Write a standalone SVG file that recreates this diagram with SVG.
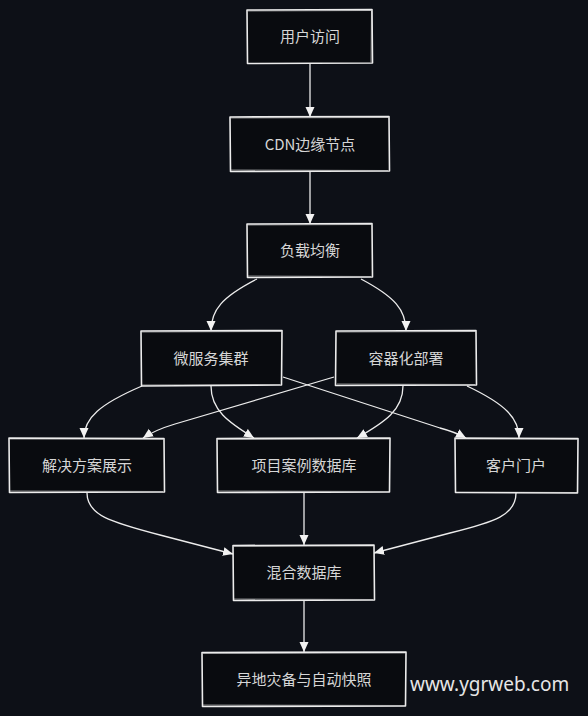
<svg xmlns="http://www.w3.org/2000/svg" width="588" height="716" viewBox="0 0 588 716">
<style>
.box{fill:#090b0f;stroke:#ececec;stroke-width:1.6;stroke-linejoin:round}
.sk{fill:none;stroke:#ececec;stroke-width:0.8;opacity:0.7}
.lbl{font-family:"Noto Sans CJK SC","Noto Sans",sans-serif;font-size:15px;fill:#d6d6d6;text-anchor:middle;dominant-baseline:central}
.edge{fill:none;stroke:#ececec;stroke-width:1.3}
.wm{font-family:"Noto Sans","Open Sans",sans-serif;font-size:19px;fill:#e6e6e6}
</style>
<defs>
<marker id="ah" markerUnits="userSpaceOnUse" markerWidth="10" markerHeight="10" viewBox="0 0 10 10" refX="10" refY="5" orient="auto">
<path d="M0,0.5 L10,5 L0,9.5 Z" fill="#f2f2f2"/>
</marker>
</defs>
<rect width="588" height="716" fill="#0d1017"/>

<g id="connectors">
<path class="edge" marker-end="url(#ah)" d="M310,63 L310,117"/>
<path class="edge" marker-end="url(#ah)" d="M310,171 L310,224"/>
<path class="edge" marker-end="url(#ah)" d="M257,279 C222,297 211,310 211,331"/>
<path class="edge" marker-end="url(#ah)" d="M361,279 C395,297 406,310 406,331"/>
<path class="edge" marker-end="url(#ah)" d="M142,386 C100,404 84,418 84,438"/>
<path class="edge" marker-end="url(#ah)" d="M211,386 C211,410 228,422 254,438"/>
<path class="edge" marker-end="url(#ah)" d="M283,377 L440,428 Q455,432 466,438"/>
<path class="edge" marker-end="url(#ah)" d="M334,377 L175,424 Q155,430 143,438"/>
<path class="edge" marker-end="url(#ah)" d="M403,386 C403,410 385,422 357,438"/>
<path class="edge" marker-end="url(#ah)" d="M467,386 C505,404 519,418 519,438"/>
<path class="edge" marker-end="url(#ah)" d="M87,493 C87,515 110,522 160,535 L233,554"/>
<path class="edge" marker-end="url(#ah)" d="M304,493 L304,545"/>
<path class="edge" marker-end="url(#ah)" d="M516,493 C516,515 495,522 450,533 L374,553"/>
<path class="edge" marker-end="url(#ah)" d="M304,600 L304,652"/>
</g>

<g id="n1">
<path class="box" d="M247,10 L372,9.5 L372.5,63 L247.5,63.5 Z"/>
<path class="sk" d="M248,11 L371,10.5 M371.5,11 L371,62"/>
<text class="lbl" x="310" y="35">用户访问</text>
</g>
<g id="n2">
<path class="box" d="M230,117 L389,116.5 L389.5,171 L230.5,171.5 Z"/>
<path class="sk" d="M231,118 L388,117.5 M231,170 L388,170.5"/>
<text class="lbl" x="310" y="143">CDN边缘节点</text>
</g>
<g id="n3">
<path class="box" d="M247,224 L372,223.5 L372.5,277 L247.5,277.5 Z"/>
<path class="sk" d="M248,225 L371,224.5 M248,276 L371,276.5"/>
<text class="lbl" x="310" y="249">负载均衡</text>
</g>
<g id="n4">
<path class="box" d="M141,331 L282,330.5 L281.5,385 L141.5,386 Z"/>
<path class="sk" d="M142,332 L281,331.5 M142,385 L280,384.5"/>
<text class="lbl" x="211" y="357">微服务集群</text>
</g>
<g id="n5">
<path class="box" d="M336,331 L476,330.5 L476.5,385 L335.5,385.5 Z"/>
<path class="sk" d="M337,332 L475,331.5 M337,384 L475,384.5"/>
<text class="lbl" x="406" y="357">容器化部署</text>
</g>
<g id="n6">
<path class="box" d="M9,438 L164,438.5 L164.5,492 L9.5,492.5 Z"/>
<path class="sk" d="M10,439 L163,439.5 M10,491 L163,491.5"/>
<text class="lbl" x="87" y="464">解决方案展示</text>
</g>
<g id="n7">
<path class="box" d="M217,438.5 L390,438 L389.5,492 L217.5,492.5 Z"/>
<path class="sk" d="M218,439.5 L389,439 M218,491 L389,491.5"/>
<text class="lbl" x="304" y="464">项目案例数据库</text>
</g>
<g id="n8">
<path class="box" d="M455,438 L578,438.5 L577.5,493 L455.5,492.5 Z"/>
<path class="sk" d="M456,439 L577,439.5 M456,492 L577,492.5"/>
<text class="lbl" x="516" y="464">客户门户</text>
</g>
<g id="n9">
<path class="box" d="M233,545.5 L374,545 L374.5,600 L233.5,600.5 Z"/>
<path class="sk" d="M234,546.5 L373,546 M234,599 L373,599.5"/>
<text class="lbl" x="304" y="571">混合数据库</text>
</g>
<g id="n10">
<path class="box" d="M202,652.5 L406,652 L405.5,706 L202.5,706.5 Z"/>
<path class="sk" d="M203,653.5 L405,653 M203,705 L405,705.5"/>
<text class="lbl" x="304" y="678">异地灾备与自动快照</text>
</g>

<text class="wm" x="410" y="691">www.ygrweb.com</text>
</svg>
